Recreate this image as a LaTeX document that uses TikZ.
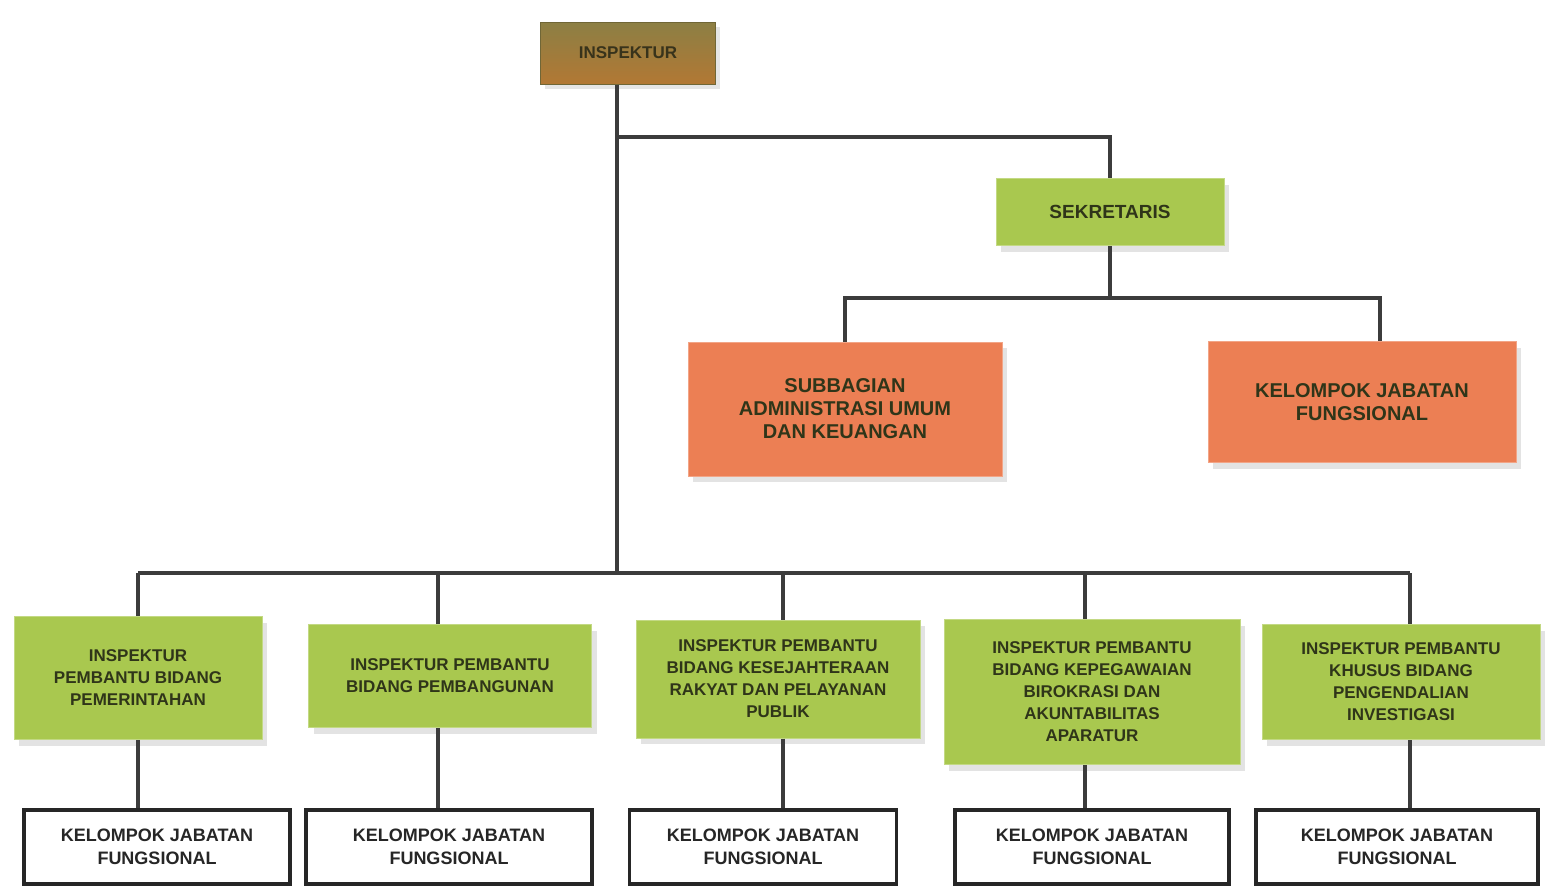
\documentclass[tikz,border=0pt]{standalone}
\usepackage{fontspec}
\setmainfont{Liberation Sans}
\usepackage{tikz}
\usetikzlibrary{calc, shadows}

\definecolor{boxgreen}{HTML}{A9C84F}
\definecolor{boxorange}{HTML}{EC7F54}
\definecolor{topolive}{HTML}{8C7F44}
\definecolor{topbrown}{HTML}{B27834}
\definecolor{linkgray}{HTML}{3C3C3C}
\definecolor{textdark}{HTML}{2F3519}

\tikzset{
    link/.style = {draw = linkgray, line width = 3.5pt},
    headbox/.style = {draw = topolive!80!black, line width = 1pt, top color = topolive, bottom color = topbrown,
        minimum width = 175pt, minimum height = 62pt, inner sep = 0pt, align = center,
        font = \fontsize{17}{22}\selectfont\bfseries, text = topolive!40!black,
        drop shadow = {shadow xshift = 4pt, shadow yshift = -5pt, fill = black!20}},
    greenbox/.style = {fill = boxgreen, draw = boxgreen!70!white, line width = 1pt, inner sep = 0pt, align = center,
        font = \fontsize{17}{22}\selectfont\bfseries, text = textdark,
        drop shadow = {shadow xshift = 5pt, shadow yshift = -6pt, fill = black!22}},
    orangebox/.style = {fill = boxorange, draw = boxorange!70!white, line width = 1pt, inner sep = 0pt, align = center,
        font = \fontsize{20}{23}\selectfont\bfseries, text = textdark,
        drop shadow = {shadow xshift = 5pt, shadow yshift = -6pt, fill = black!22}},
    kjfbox/.style = {fill = white, draw = black!85, line width = 3.5pt, inner sep = 0pt, align = center,
        minimum height = 74pt, font = \fontsize{18}{23}\selectfont\bfseries, text = black!85}
}

\begin{document}
\begin{tikzpicture}[x = 1pt, y = -1pt]
            \useasboundingbox (0, 0) rectangle (1545, 886);

            \coordinate (j_sek) at (617, 137);
            \coordinate (j_bus) at (617, 573);
            \coordinate (j_sub) at (1110, 298);
            \coordinate (bus_1) at (138, 573);
            \coordinate (bus_2) at (438, 573);
            \coordinate (bus_3) at (783, 573);
            \coordinate (bus_4) at (1085, 573);
            \coordinate (bus_5) at (1410, 573);

            \node[headbox] (insp) at (628, 53) {INSPEKTUR};
            \node[greenbox, minimum width = 228pt, minimum height = 67pt, font = \fontsize{19}{22}\selectfont\bfseries] (sek) at (1110, 212) {SEKRETARIS};

            \node[orangebox, minimum width = 314pt, minimum height = 134pt] (sub) at (845, 409) {SUBBAGIAN\\ADMINISTRASI UMUM\\DAN KEUANGAN};
            \node[orangebox, minimum width = 308pt, minimum height = 121pt] (kjf_sek) at (1362, 402) {KELOMPOK JABATAN\\FUNGSIONAL};

            \node[greenbox, minimum width = 248pt, minimum height = 123pt] (ip_1) at (138, 678) {INSPEKTUR\\PEMBANTU BIDANG\\PEMERINTAHAN};
            \node[greenbox, minimum width = 283pt, minimum height = 103pt] (ip_2) at (450, 676) {INSPEKTUR PEMBANTU\\BIDANG PEMBANGUNAN};
            \node[greenbox, minimum width = 284pt, minimum height = 118pt] (ip_3) at (778, 679) {INSPEKTUR PEMBANTU\\BIDANG KESEJAHTERAAN\\RAKYAT DAN PELAYANAN\\PUBLIK};
            \node[greenbox, minimum width = 296pt, minimum height = 145pt] (ip_4) at (1092, 692) {INSPEKTUR PEMBANTU\\BIDANG KEPEGAWAIAN\\BIROKRASI DAN\\AKUNTABILITAS\\APARATUR};
            \node[greenbox, minimum width = 278pt, minimum height = 115pt] (ip_5) at (1401, 682) {INSPEKTUR PEMBANTU\\KHUSUS BIDANG\\PENGENDALIAN\\INVESTIGASI};

            \node[kjfbox, minimum width = 266pt] (kjf_1) at (157, 847) {KELOMPOK JABATAN\\FUNGSIONAL};
            \node[kjfbox, minimum width = 286pt] (kjf_2) at (449, 847) {KELOMPOK JABATAN\\FUNGSIONAL};
            \node[kjfbox, minimum width = 267pt] (kjf_3) at (763, 847) {KELOMPOK JABATAN\\FUNGSIONAL};
            \node[kjfbox, minimum width = 274pt] (kjf_4) at (1092, 847) {KELOMPOK JABATAN\\FUNGSIONAL};
            \node[kjfbox, minimum width = 282pt] (kjf_5) at (1397, 847) {KELOMPOK JABATAN\\FUNGSIONAL};

            \draw[link] (insp.south -| j_sek) -- (j_bus);
            \draw[link] (j_sek) -| (sek.north);
            \draw[link] (sek.south) -- (j_sub);
            \draw[link] (sub.north) |- (j_sub) -| ([xshift = 18pt]kjf_sek.north);
            \draw[link] (bus_1) -- (bus_5);

            \draw[link] (bus_1) -- (bus_1 |- ip_1.north);
            \draw[link] (bus_1 |- ip_1.south) -- (bus_1 |- kjf_1.north);
            \draw[link] (bus_2) -- (bus_2 |- ip_2.north);
            \draw[link] (bus_2 |- ip_2.south) -- (bus_2 |- kjf_2.north);
            \draw[link] (bus_3) -- (bus_3 |- ip_3.north);
            \draw[link] (bus_3 |- ip_3.south) -- (bus_3 |- kjf_3.north);
            \draw[link] (bus_4) -- (bus_4 |- ip_4.north);
            \draw[link] (bus_4 |- ip_4.south) -- (bus_4 |- kjf_4.north);
            \draw[link] (bus_5) -- (bus_5 |- ip_5.north);
            \draw[link] (bus_5 |- ip_5.south) -- (bus_5 |- kjf_5.north);
        \end{tikzpicture}
\end{document}
